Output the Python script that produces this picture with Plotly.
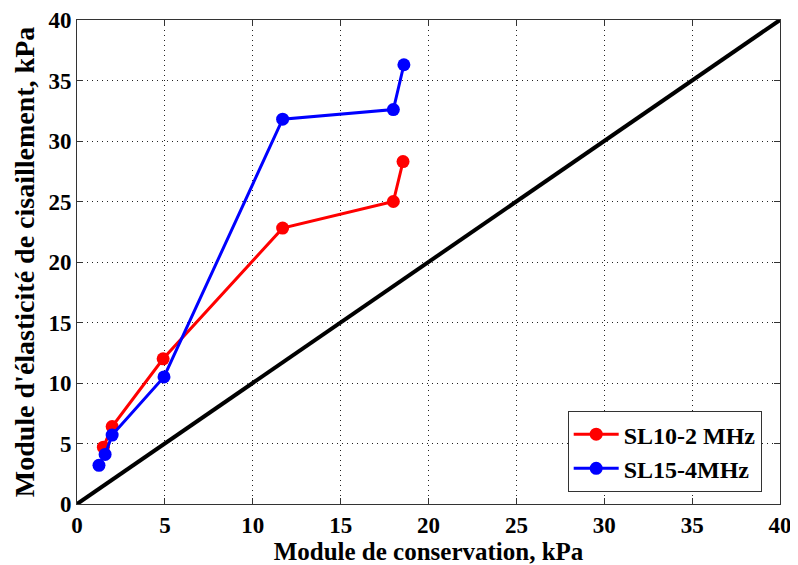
import plotly.graph_objects as go

# données
x_sl10 = [1.5, 2.0, 4.9, 11.7, 18.0, 18.55]
y_sl10 = [4.7, 6.4, 12.0, 22.8, 25.0, 28.3]

x_sl15 = [1.25, 1.6, 2.0, 4.95, 11.7, 18.0, 18.6]
y_sl15 = [3.2, 4.1, 5.7, 10.5, 31.8, 32.6, 36.3]

x_ref = [0, 40]
y_ref = [0, 40]

police = "Liberation Serif"

fig = go.Figure()

fig.add_trace(go.Scatter(
    x=x_ref, y=y_ref, mode='lines',
    line=dict(color='black', width=4),
    showlegend=False
))
fig.add_trace(go.Scatter(
    x=x_sl10, y=y_sl10, mode='lines+markers', name='<b>SL10-2 MHz</b>',
    line=dict(color='#ff0000', width=3),
    marker=dict(color='#ff0000', size=13)
))
fig.add_trace(go.Scatter(
    x=x_sl15, y=y_sl15, mode='lines+markers', name='<b>SL15-4MHz</b>',
    line=dict(color='#0000ff', width=3),
    marker=dict(color='#0000ff', size=13)
))

axe = dict(
    range=[0, 40], dtick=5, automargin=False,
    showgrid=True, gridcolor='#222222', griddash='1px,4px', gridwidth=1,
    zeroline=False,
    showline=True, linecolor='#333333', linewidth=1, mirror='allticks',
    ticks='inside', ticklen=6, tickcolor='#333333',
    tickfont=dict(family=police, size=23, color='black'),
    tickprefix='<b>', ticksuffix='</b>',
)

# la page ajoute une marge de 8 px : figure un peu plus petite
fig.update_layout(
    width=790, height=557,
    margin=dict(l=69, r=18, t=12, b=61),
    plot_bgcolor='white', paper_bgcolor='white',
    font=dict(family=police, color='black'),
    xaxis=dict(axe, title=dict(text='<b>Module de conservation, kPa</b>',
                               font=dict(family=police, size=25), standoff=2)),
    yaxis=dict(axe, title=dict(text="<b>Module d'élasticité de cisaillement, kPa</b>",
                               font=dict(family=police, size=28), standoff=5)),
    legend=dict(
        x=0.698, y=0.192, xanchor='left', yanchor='top',
        bgcolor='white', bordercolor='#333333', borderwidth=1,
        font=dict(family=police, size=24, color='black'),
        itemwidth=45, tracegroupgap=0,
    ),
)

fig.write_html("out.html")
